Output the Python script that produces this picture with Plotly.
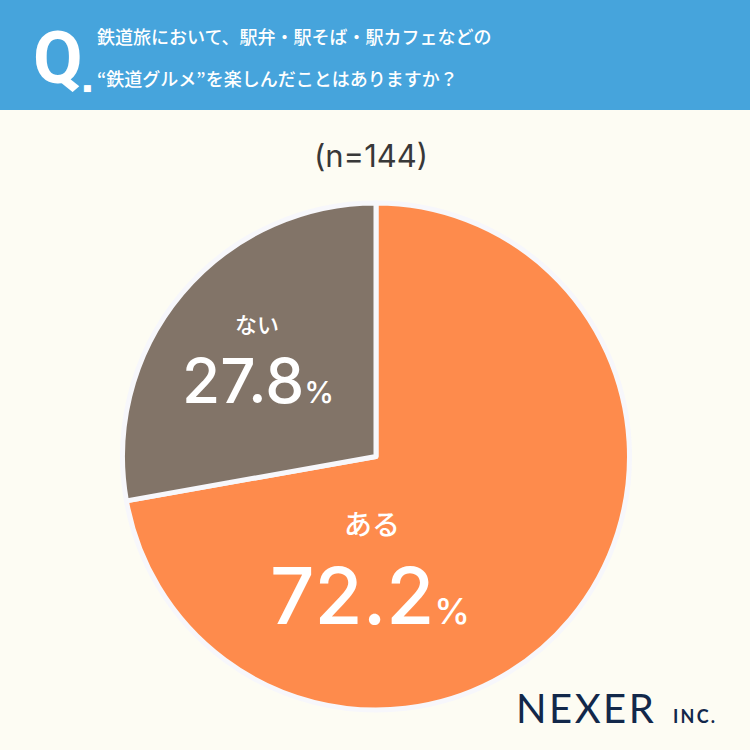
import plotly.graph_objects as go

labels = ["ある", "ない"]
values = [72.2, 27.8]
colors = ["#FE8B4C", "#827468"]
pct_text = ["72.2", "27.8"]
title_lines = ["鉄道旅において、駅弁・駅そば・駅カフェなどの", "“鉄道グルメ”を楽しんだことはありますか？"]
n_text = "(n=144)"

W = H = 750
def px(x):
    return x / W
def py(y):
    return 1 - y / H

fig = go.Figure()
fig.add_trace(go.Pie(
    labels=labels, values=values, sort=False, direction="clockwise", rotation=0,
    marker=dict(colors=colors, line=dict(color="#F7F7FB", width=5)),
    textinfo="none", hoverinfo="label+percent", showlegend=False,
    domain=dict(x=[px(122), px(630)], y=[py(710), py(203)]),
))

ann = []
font_cjk = "Noto Sans CJK JP"
num_font = "Inter, Noto Sans CJK JP"
hs = "\u200a"
ts = "\u2009"
# header
ann.append(dict(x=px(58), y=py(58), text="Q", font=dict(family="Roboto", size=72, color="white", weight=700),
                xanchor="center", yanchor="middle"))
ann.append(dict(x=px(81), y=py(95), text="■", font=dict(family="DejaVu Sans", size=9, color="white"),
                xanchor="left", yanchor="bottom"))
ann.append(dict(x=px(95), y=py(36), text=title_lines[0], font=dict(family=font_cjk, size=18, color="white", weight=500),
                xanchor="left", yanchor="middle"))
ann.append(dict(x=px(95), y=py(78), text=title_lines[1], font=dict(family=font_cjk, size=18, color="white", weight=500),
                xanchor="left", yanchor="middle"))
ann.append(dict(x=px(371), y=py(156), text=n_text, font=dict(family=num_font, size=31, color="#383838", weight=400),
                xanchor="center", yanchor="middle"))
# slice labels
ann.append(dict(x=px(257), y=py(323), text=labels[1], font=dict(family=font_cjk, size=22, color="white", weight=500),
                xanchor="center", yanchor="middle"))
ann.append(dict(x=px(258), y=py(380), text=pct_text[1] + '<span style="font-size:30px">%</span>',
                font=dict(family=num_font, size=62, color="white", weight=500), xanchor="center", yanchor="middle"))
ann.append(dict(x=px(372), y=py(523), text=labels[0], font=dict(family=font_cjk, size=28, color="white", weight=500),
                xanchor="center", yanchor="middle"))
ann.append(dict(x=px(370), y=py(595), text=pct_text[0] + '<span style="font-size:36px">%</span>',
                font=dict(family=num_font, size=78, color="white", weight=500), xanchor="center", yanchor="middle"))
# logo
ann.append(dict(x=px(514), y=py(708), text=hs.join("NEXER"), font=dict(family="Lato", size=40, color="#12284A"),
                xanchor="left", yanchor="middle"))
ann.append(dict(x=px(671), y=py(716), text=ts.join("INC."), font=dict(family="Lato", size=18, color="#12284A", weight=700),
                xanchor="left", yanchor="middle"))

for a in ann:
    a.update(xref="paper", yref="paper", showarrow=False)

fig.update_layout(
    width=W, height=H, margin=dict(l=0, r=0, t=0, b=0),
    paper_bgcolor="#FDFCF3", plot_bgcolor="#FDFCF3",
    annotations=ann,
    shapes=[dict(type="rect", xref="paper", yref="paper", x0=0, x1=1, y0=py(110), y1=1,
                 fillcolor="#46A4DC", line=dict(width=0), layer="below")],
)
fig.write_html("out.html")
